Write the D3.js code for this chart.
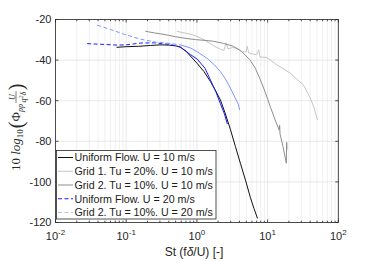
<!DOCTYPE html>
<html>
<head>
<meta charset="utf-8">
<script src="https://cdn.jsdelivr.net/npm/d3@7"></script>
<style>
  html, body { margin: 0; padding: 0; background: #fff; }
  svg { display: block; font-family: "Liberation Sans", Arial, sans-serif; }
</style>
</head>
<body>
<svg id="chart" width="374" height="262"></svg>
<script>
// ── data (St, dB) ──────────────────────────────────────────────────────────
const uniform10 = [
  [0.073,-33.7],[0.1,-33.4],[0.15,-33.2],[0.22,-32.8],[0.3,-32.5],[0.4,-32.6],[0.5,-33.0],
  [0.58,-33.6],[0.7,-35.6],[0.81,-38.0],[1.0,-41.5],[1.25,-45.5],[1.55,-50.5],[1.8,-54.5],
  [2.15,-59.6],[2.5,-66],[2.97,-74],[3.5,-82.5],[4.12,-90.8],[4.9,-99.5],[5.7,-107.6],[6.4,-113],[7.2,-118]
];
const grid1Tu20U10 = [
  [0.52,-25.8],[0.7,-26.8],[0.85,-27.4],[1.0,-28.3],[1.3,-30.2],[1.7,-32.8],[2.1,-34.5],[2.4,-35.3],
  [2.6,-31.5],[2.75,-34.5],[3.2,-33.8],[3.8,-34.3],[4.4,-36],[5.0,-35.8],[5.15,-33.2],[5.4,-36.5],
  [6.2,-37],[7.0,-37.3],[7.5,-34.9],[7.8,-38.5],[9.8,-38.7],[13.5,-42.3],[20.8,-46.4],[32,-52.2],
  [39.9,-58.5],[45,-63],[50.7,-69.5]
];
const grid2Tu10U10 = [
  [0.187,-25.8],[0.25,-26.6],[0.3,-27],[0.4,-27.8],[0.5,-28.5],[0.7,-29.3],[0.95,-29.9],[1.3,-30.3],
  [1.7,-30.7],[2.4,-31.8],[3.28,-33.2],[4.3,-35.8],[5.6,-39.8],[6.7,-44],[7.9,-49.7],[9.3,-56],
  [10.9,-62.9],[12.8,-69.5],[14.6,-74.5],[14.8,-72],[15.0,-76.5],[16.5,-82.5],[18.4,-90.8],[18.6,-80.5],[18.8,-84]
];
const uniform20 = [
  [0.028,-31.9],[0.05,-32.3],[0.074,-32.6],[0.1,-32.5],[0.159,-31.6],[0.25,-31.5],[0.42,-32.3],
  [0.58,-33.5],[0.81,-37.3],[1.01,-39.5],[1.3,-44],[1.55,-49.7],[1.85,-55.5],[2.15,-61.5],[2.45,-66.5],[2.7,-71.5]
];
const grid2Tu10U20 = [
  [0.039,-22.8],[0.06,-24.9],[0.092,-27.2],[0.159,-29.7],[0.27,-31.2],[0.42,-31.8],[0.58,-32.5],
  [0.81,-34.0],[1.0,-35.8],[1.38,-39.0],[1.75,-42.2],[2.15,-45.6],[2.55,-49.5],[2.97,-53.8],[3.45,-58.3],[3.88,-62.1],[4.03,-64.6]
];

const seriesNames = [
  'Uniform Flow. U = 10 m/s',
  'Grid 1. Tu = 20%. U = 10 m/s',
  'Grid 2. Tu = 10%. U = 10 m/s',
  'Uniform Flow. U = 20 m/s',
  'Grid 2. Tu = 10%. U = 20 m/s'
];
const xTicks = [0.01, 0.1, 1, 10, 100];
const xTickExp = ['-2', '-1', '0', '1', '2'];
const yTicks = [-120, -100, -80, -60, -40, -20];

// ── styles ─────────────────────────────────────────────────────────────────
const styles = [
  { data: uniform10,    color: '#111111', dash: null },
  { data: grid1Tu20U10, color: '#c6c6c6', dash: null },
  { data: grid2Tu10U10, color: '#8e8e8e', dash: null },
  { data: uniform20,    color: '#1a1aff', dash: '4,2.5' },
  { data: grid2Tu10U20, color: '#7f95ff', dash: '4,2.5', legendColor: '#b7c2ff' }
];
const DASH_SPLIT = 0.5; // dense part of dashed curves renders solid

// ── scales ─────────────────────────────────────────────────────────────────
const m = { left: 55.5, right: 338.3, top: 19.5, bottom: 222.5 };
const x = d3.scaleLog().domain([0.01, 100]).range([m.left, m.right]);
const y = d3.scaleLinear().domain([-120, -20]).range([m.bottom, m.top]);
const svg = d3.select('#chart');
const axisCol = '#262626';

// ── grid ───────────────────────────────────────────────────────────────────
const gGrid = svg.append('g');
const allXTicks = x.ticks();
gGrid.selectAll('.minor').data(allXTicks.filter(d => !xTicks.includes(d))).join('line')
  .attr('x1', d => x(d)).attr('x2', d => x(d)).attr('y1', m.top).attr('y2', m.bottom)
  .attr('stroke', '#ececec').attr('stroke-width', 0.8);
gGrid.selectAll('.major').data(xTicks).join('line')
  .attr('x1', d => x(d)).attr('x2', d => x(d)).attr('y1', m.top).attr('y2', m.bottom)
  .attr('stroke', '#e2e2e2').attr('stroke-width', 0.8);
gGrid.selectAll('.hmaj').data(yTicks).join('line')
  .attr('x1', m.left).attr('x2', m.right).attr('y1', d => y(d)).attr('y2', d => y(d))
  .attr('stroke', '#e2e2e2').attr('stroke-width', 0.8);

// ── curves ─────────────────────────────────────────────────────────────────
const line = d3.line().x(d => x(d[0])).y(d => y(d[1]));
const gLines = svg.append('g');
styles.forEach(s => {
  if (!s.dash) {
    gLines.append('path').attr('d', line(s.data))
      .attr('fill', 'none').attr('stroke', s.color).attr('stroke-width', 1);
  } else {
    const k = s.data.findIndex(d => d[0] >= DASH_SPLIT);
    gLines.append('path').attr('d', line(s.data.slice(0, k + 1)))
      .attr('fill', 'none').attr('stroke', s.color).attr('stroke-width', 1)
      .attr('stroke-dasharray', s.dash);
    gLines.append('path').attr('d', line(s.data.slice(k)))
      .attr('fill', 'none').attr('stroke', s.color).attr('stroke-width', 1);
  }
});

// ── axes box + ticks ───────────────────────────────────────────────────────
const gAx = svg.append('g').attr('stroke', axisCol).attr('stroke-width', 0.8);
gAx.append('rect').attr('x', m.left).attr('y', m.top)
  .attr('width', m.right - m.left).attr('height', m.bottom - m.top).attr('fill', 'none');
const tl = 3;
allXTicks.forEach(d => {
  const len = xTicks.includes(d) ? tl : tl * 0.6;
  gAx.append('line').attr('x1', x(d)).attr('x2', x(d)).attr('y1', m.bottom).attr('y2', m.bottom - len);
  gAx.append('line').attr('x1', x(d)).attr('x2', x(d)).attr('y1', m.top).attr('y2', m.top + len);
});
yTicks.forEach(d => {
  gAx.append('line').attr('x1', m.left).attr('x2', m.left + tl).attr('y1', y(d)).attr('y2', y(d));
  gAx.append('line').attr('x1', m.right).attr('x2', m.right - tl).attr('y1', y(d)).attr('y2', y(d));
});

// tick labels
svg.append('g').selectAll('text').data(yTicks).join('text')
  .attr('x', m.left - 4).attr('y', d => y(d)).attr('dy', '0.36em')
  .attr('text-anchor', 'end').attr('font-size', 11).attr('fill', axisCol)
  .text(d => d);
const xl = svg.append('g').selectAll('text').data(xTicks).join('text')
  .attr('x', d => x(d)).attr('y', 240).attr('text-anchor', 'middle')
  .attr('font-size', 11).attr('fill', axisCol);
xl.append('tspan').text('10');
xl.append('tspan').attr('dy', -5).attr('font-size', 8).text((d, i) => xTickExp[i]);

const xt = svg.append('text').attr('x', 194).attr('y', 256).attr('text-anchor', 'middle')
  .attr('font-size', 12).attr('fill', axisCol);
xt.append('tspan').text('St (f');
xt.append('tspan').attr('font-style', 'italic').text('δ');
xt.append('tspan').text('/U) [-]');

// ── y label (rotated) ──────────────────────────────────────────────────────
const yl = svg.append('g').attr('transform', 'translate(19.5,171) rotate(-90)')
  .attr('font-family', '"Liberation Serif", "DejaVu Serif", serif').attr('fill', axisCol);
let cx = 0;
const t1 = yl.append('text').attr('x', 0).attr('y', 0).attr('font-size', 13);
t1.append('tspan').text('10 ');
t1.append('tspan').attr('font-style', 'italic').text('log');
t1.append('tspan').attr('font-size', 9).attr('dy', 3).text('10');
cx = t1.node().getComputedTextLength() + 1;
const lp = yl.append('text').attr('x', cx).attr('y', 3).attr('font-size', 20).text('(');
cx += lp.node().getComputedTextLength();
const phi = yl.append('text').attr('x', cx).attr('y', 0).attr('font-size', 13);
phi.append('tspan').text('Φ');
phi.append('tspan').attr('font-size', 8).attr('font-style', 'italic').attr('dy', 3).text('pp');
cx += phi.node().getComputedTextLength() + 1;
const den = yl.append('text').attr('y', 6).attr('font-size', 8).attr('font-style', 'italic');
den.append('tspan').text('q');
den.append('tspan').attr('font-size', 6).attr('dy', -3).text('2');
den.append('tspan').attr('dy', 3).text('δ');
const fw = den.node().getComputedTextLength();
den.attr('x', cx + 0.5);
yl.append('text').attr('x', cx + 0.5 + fw / 2).attr('y', -5).attr('font-size', 8)
  .attr('font-style', 'italic').attr('text-anchor', 'middle').text('U');
yl.append('line').attr('x1', cx).attr('x2', cx + fw + 1).attr('y1', -3.5).attr('y2', -3.5)
  .attr('stroke', axisCol).attr('stroke-width', 0.6);
cx += fw + 2;
yl.append('text').attr('x', cx).attr('y', 3).attr('font-size', 20).text(')');

// ── legend ─────────────────────────────────────────────────────────────────
const lg = svg.append('g');
lg.append('rect').attr('x', 56.5).attr('y', 150.5).attr('width', 159.5).attr('height', 68.5)
  .attr('fill', '#fff').attr('stroke', axisCol).attr('stroke-width', 0.8);
seriesNames.forEach((name, i) => {
  const s = styles[i];
  const ry = 157.5 + i * 13.75;
  lg.append('line').attr('x1', 58).attr('x2', 73).attr('y1', ry).attr('y2', ry)
    .attr('stroke', s.legendColor || s.color).attr('stroke-width', 1)
    .attr('stroke-dasharray', s.dash);
  lg.append('text').attr('x', 74.5).attr('y', ry).attr('dy', '0.36em')
    .attr('font-size', 10.7).attr('fill', '#1a1a1a').text(name);
});
</script>
</body>
</html>
